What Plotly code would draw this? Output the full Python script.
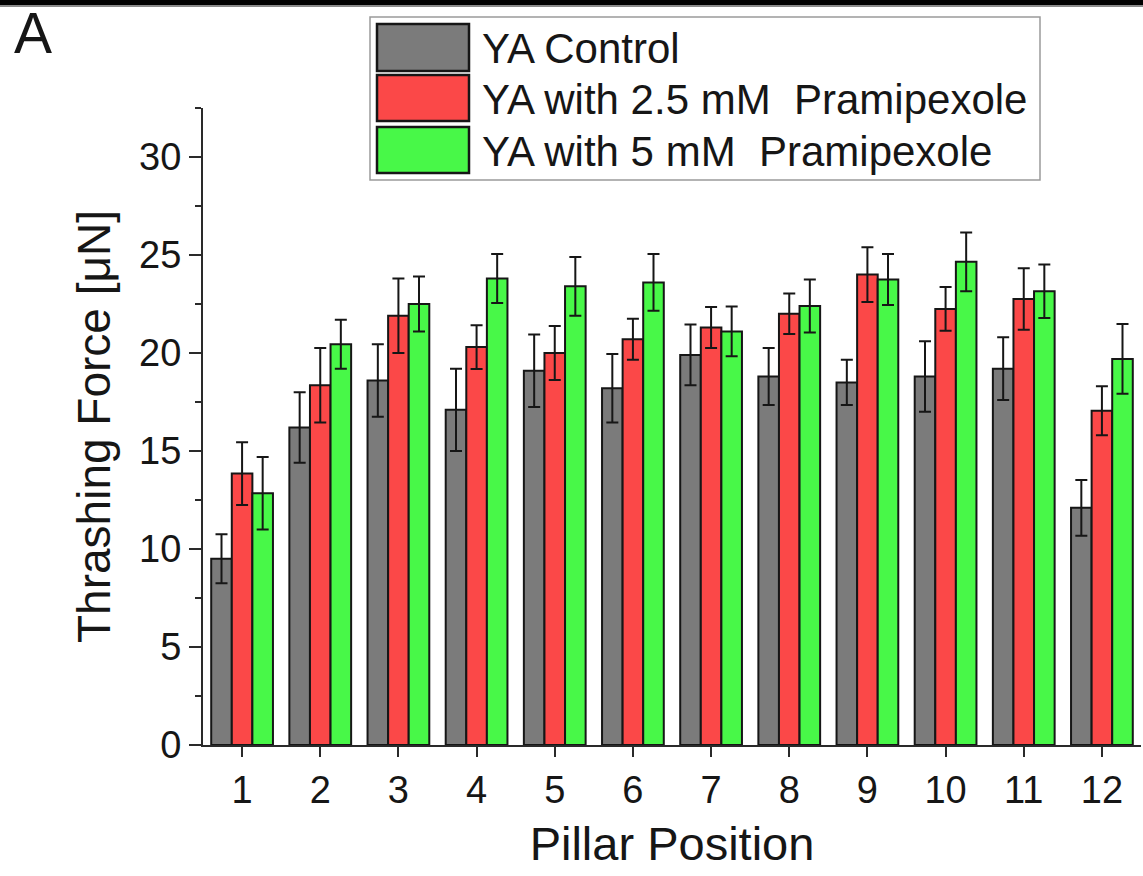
import plotly.graph_objects as go

# Thrashing force per pillar position for the three groups (mean and error)
positions = [1, 2, 3, 4, 5, 6, 7, 8, 9, 10, 11, 12]
tick_labels = [str(p) for p in positions]

control = [9.5, 16.2, 18.6, 17.1, 19.1, 18.2, 19.9, 18.8, 18.5, 18.8, 19.2, 12.1]
control_err = [1.25, 1.8, 1.85, 2.1, 1.85, 1.75, 1.55, 1.45, 1.15, 1.8, 1.6, 1.42]

pram_25 = [13.85, 18.35, 21.9, 20.3, 20.0, 20.7, 21.3, 22.0, 24.0, 22.25, 22.75, 17.05]
pram_25_err = [1.6, 1.9, 1.9, 1.12, 1.38, 1.05, 1.05, 1.03, 1.4, 1.12, 1.57, 1.25]

pram_5 = [12.85, 20.45, 22.5, 23.8, 23.4, 23.6, 21.1, 22.4, 23.75, 24.65, 23.15, 19.7]
pram_5_err = [1.85, 1.25, 1.4, 1.25, 1.5, 1.45, 1.27, 1.35, 1.3, 1.5, 1.36, 1.78]

series_names = ["YA Control", "YA with 2.5 mM\u00a0 Pramipexole", "YA with 5 mM\u00a0 Pramipexole"]
series_colors = ["#7b7b7b", "#fb4848", "#48f848"]

FONT = "Liberation Sans, Arial, Helvetica, sans-serif"
INK = "#161616"

W, H = 1143, 876
ML, MR, MT, MB = 203, 2, 108, 131
PW, PH = W - ML - MR, H - MT - MB


def px_x(px):
    return (px - ML) / PW


def px_y(py):
    return (H - MB - py) / PH


fig = go.Figure()
for name, vals, errs, color in zip(series_names,
                                   [control, pram_25, pram_5],
                                   [control_err, pram_25_err, pram_5_err],
                                   series_colors):
    fig.add_trace(go.Bar(
        x=positions, y=vals, name=name,
        marker=dict(color=color, line=dict(color=INK, width=2)),
        error_y=dict(type="data", array=errs, symmetric=True,
                     color=INK, thickness=2, width=6),
        showlegend=False,
    ))

# Legend box drawn with large swatches
shapes = [
    dict(type="rect", xref="paper", yref="paper",
         x0=px_x(370), x1=px_x(1040), y0=px_y(180), y1=px_y(17),
         line=dict(color="#9a9a9a", width=1.5), fillcolor="white", layer="above"),
    # dark band along the top edge
    dict(type="rect", xref="paper", yref="paper",
         x0=px_x(-5), x1=px_x(W + 5), y0=px_y(5), y1=px_y(-5),
         line=dict(width=0), fillcolor="#000000", layer="above"),
    dict(type="rect", xref="paper", yref="paper",
         x0=px_x(-5), x1=px_x(W + 5), y0=px_y(7), y1=px_y(5),
         line=dict(width=0), fillcolor="#8a8a8a", layer="above"),
]
annotations = []
rows = [(24, 71), (75, 121), (127, 173)]
for (top, bot), name, color in zip(rows, series_names, series_colors):
    shapes.append(dict(type="rect", xref="paper", yref="paper",
                       x0=px_x(377), x1=px_x(469), y0=px_y(bot), y1=px_y(top),
                       line=dict(color=INK, width=2.5), fillcolor=color, layer="above"))
    annotations.append(dict(xref="paper", yref="paper", x=px_x(480), y=px_y((top + bot) / 2 + 1),
                            text=name, showarrow=False, xanchor="left", yanchor="middle",
                            font=dict(family=FONT, size=42, color=INK)))

# Panel letter
annotations.append(dict(xref="paper", yref="paper", x=px_x(12), y=px_y(33),
                        text="A", showarrow=False, xanchor="left", yanchor="middle",
                        font=dict(family=FONT, size=57, color=INK)))

fig.update_layout(
    width=W, height=H,
    margin=dict(l=ML, r=MR, t=MT, b=MB, pad=0),
    paper_bgcolor="white", plot_bgcolor="white",
    barmode="group", bargap=0.21, bargroupgap=0,
    font=dict(family=FONT, color=INK),
    shapes=shapes, annotations=annotations,
    xaxis=dict(
        range=[0.5, 12.5], tickmode="array", tickvals=positions, ticktext=tick_labels,
        showline=True, linecolor="#2a2a2a", linewidth=2, mirror=False,
        ticks="outside", ticklen=10, tickwidth=2, tickcolor="#2a2a2a",
        showgrid=False, zeroline=False,
        tickfont=dict(family=FONT, size=38, color=INK),
        title=dict(text="Pillar Position", standoff=18,
                   font=dict(family=FONT, size=47, color=INK)),
    ),
    yaxis=dict(
        range=[0, 32.5], tickmode="linear", tick0=0, dtick=5,
        showline=True, linecolor="#2a2a2a", linewidth=2,
        ticks="outside", ticklen=12, tickwidth=2, tickcolor="#2a2a2a",
        minor=dict(ticks="outside", ticklen=6, tickwidth=2, tickcolor="#2a2a2a",
                   tickmode="linear", tick0=2.5, dtick=5),
        showgrid=False, zeroline=False,
        tickfont=dict(family=FONT, size=38, color=INK),
        title=dict(text="Thrashing Force [\u03bcN]", standoff=14,
                   font=dict(family=FONT, size=46, color=INK)),
    ),
)

fig.write_html("out.html")
